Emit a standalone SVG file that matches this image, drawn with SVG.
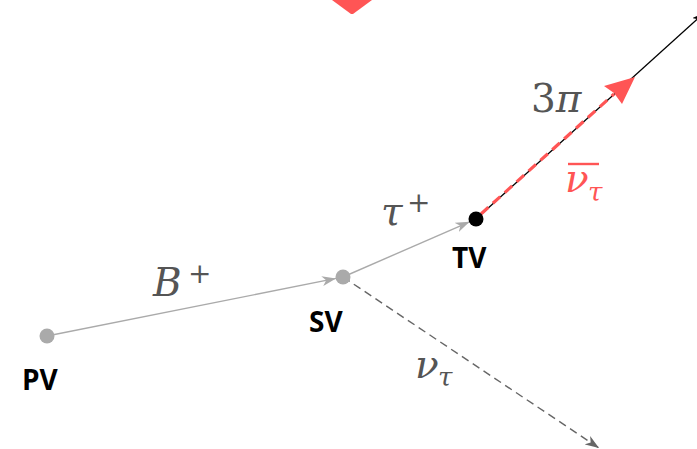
<svg xmlns="http://www.w3.org/2000/svg" width="697" height="449" viewBox="0 0 697 449">
<style>
.lbl{font-family:"Open Sans","DejaVu Sans",sans-serif;font-weight:bold;font-size:28px;fill:#000}
.math{font-family:"DejaVu Serif","Liberation Serif",serif;font-style:italic;font-size:39px;fill:#555}
.sup{font-family:"DejaVu Serif","Liberation Serif",serif;font-size:28px;fill:#555}
.sub{font-family:"DejaVu Serif","Liberation Serif",serif;font-style:italic;font-size:26px;fill:#555}
.trk{fill:none;stroke:#aaaaaa;stroke-width:1.4}
</style>
<defs>
<marker id="ag" viewBox="0 0 14 10" refX="14" refY="5" markerWidth="14" markerHeight="10" markerUnits="userSpaceOnUse" orient="auto">
<path d="M0,0 L14,5 L0,10 L4,5 Z" fill="#aaaaaa"/>
</marker>
<marker id="ad" viewBox="0 0 14 10" refX="14" refY="5" markerWidth="14" markerHeight="10" markerUnits="userSpaceOnUse" orient="auto">
<path d="M0,0 L14,5 L0,10 L4,5 Z" fill="#666666"/>
</marker>
<marker id="ab" viewBox="0 0 12 8" refX="12" refY="4" markerWidth="12" markerHeight="8" markerUnits="userSpaceOnUse" orient="auto">
<path d="M0,0 L12,4 L0,8 L3,4 Z" fill="#000"/>
</marker>
</defs>
<polygon points="332,0 372,0 353,14 351,14" fill="#ff5555"/>
<g id="connectors">
<line class="trk" x1="47" y1="336" x2="336" y2="278.4" marker-end="url(#ag)"/>
<line class="trk" x1="343" y1="277" x2="469.6" y2="221.8" marker-end="url(#ag)"/>
<line x1="343" y1="277" x2="599" y2="448" stroke="#666" stroke-width="1.4" stroke-dasharray="8,5" marker-end="url(#ad)"/>
<line x1="476" y1="219" x2="704" y2="13" stroke="#000" stroke-width="1.3" marker-end="url(#ab)"/>
<line x1="481" y1="214" x2="614" y2="94" stroke="#ff5555" stroke-width="3.2" stroke-dasharray="10,6"/>
<polygon points="635,77 604,86 614,93 622,104" fill="#ff5555"/>
</g>
<g id="PV"><circle cx="47" cy="336" r="7.5" fill="#aaaaaa"/><text class="lbl" x="22" y="390">PV</text></g>
<g id="SV"><circle cx="343" cy="277" r="7.5" fill="#aaaaaa"/><text class="lbl" x="309" y="332">SV</text></g>
<g id="TV"><circle cx="476" cy="219" r="7.5" fill="#000"/><text class="lbl" x="452" y="268">TV</text></g>
<g id="labels">
<text class="math" x="153" y="296">B</text><text class="sup" x="188" y="283">+</text>
<text class="math" x="381" y="225">τ</text><text class="sup" x="407" y="212">+</text>
<text class="math" x="531" y="112" style="font-style:normal">3<tspan style="font-style:italic">π</tspan></text>
<text class="math" x="565" y="192" style="fill:#ff5555">ν</text>
<line x1="568" y1="164" x2="599" y2="164" stroke="#ff5555" stroke-width="2.4"/>
<text class="sub" x="588" y="201" style="fill:#ff5555">τ</text>
<text class="math" x="415" y="378">ν</text><text class="sub" x="438" y="386">τ</text>
</g>
</svg>
